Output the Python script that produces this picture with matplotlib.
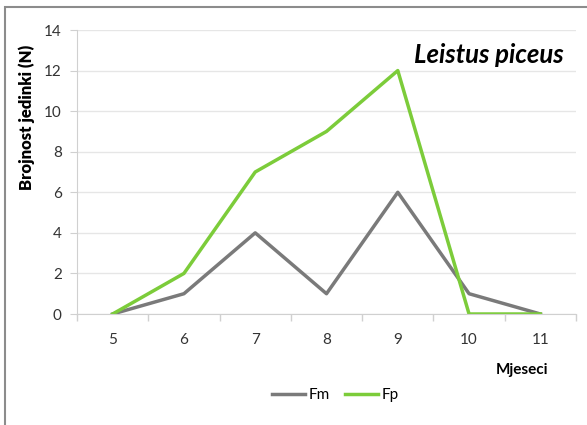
import numpy as np
import matplotlib.pyplot as plt
from matplotlib.patches import Rectangle

months = ['5', '6', '7', '8', '9', '10', '11']
fm = [0, 1, 4, 1, 6, 1, 0]
fp = [0, 2, 7, 9, 12, 0, 0]

plt.rcParams['font.family'] = ['Lato', 'DejaVu Sans']

fig = plt.figure(figsize=(5.87, 4.25), dpi=100)
# outer chart frame
fig.patches.append(Rectangle((5 / 587, -0.1), 1.2, 1 - 7 / 425 + 0.1, transform=fig.transFigure,
                             fill=False, edgecolor='#8c8c8c', linewidth=1.5))

ax = fig.add_axes([77 / 587, 1 - 314 / 425, (576 - 77) / 587, (314 - 30) / 425])
x = np.arange(len(months))
ax.plot(x, fm, color='#7a7a7a', linewidth=2.5, label='Fm')
ax.plot(x, fp, color='#7ccc3a', linewidth=2.5, label='Fp')

ax.set_xlim(-0.5, len(months) - 0.5)
ax.set_ylim(0, 14)
ax.set_yticks(range(0, 15, 2))
ax.set_xticks(x)
ax.set_xticklabels(months)
ax.set_xticks(np.arange(-0.5, len(months), 1), minor=True)
ax.tick_params(axis='x', which='major', length=0, pad=14, labelsize=11, colors='#333333')
ax.tick_params(axis='x', which='minor', length=5, color='#d0d0d0', width=1)
ax.tick_params(axis='y', length=5, color='#d0d0d0', labelsize=11, colors='#333333', pad=6)

ax.grid(axis='y', color='#e6e6e6', linewidth=1)
ax.set_axisbelow(True)
for s in ['top', 'right']:
    ax.spines[s].set_visible(False)
ax.spines['left'].set_color('#d0d0d0')
ax.spines['bottom'].set_color('#d0d0d0')

fig.text(27 / 587, 1 - 117 / 425, 'Brojnost jedinki (N)', rotation=90, ha='center', va='center',
         fontsize=12, fontweight='heavy')
fig.text(522 / 587, 1 - 370 / 425, 'Mjeseci', ha='center', va='center', fontsize=11, fontweight='bold')
fig.text(489 / 587, 1 - 55 / 425, 'Leistus piceus', ha='center', va='center', fontsize=18.5,
         fontweight='bold', fontstyle='italic')

fig.legend(loc='center', bbox_to_anchor=(335 / 587, 1 - 395 / 425), ncol=2, frameon=False,
           fontsize=11, handlelength=2.2, handletextpad=0.2, columnspacing=1.0)

fig.savefig('out.png', dpi=100)
